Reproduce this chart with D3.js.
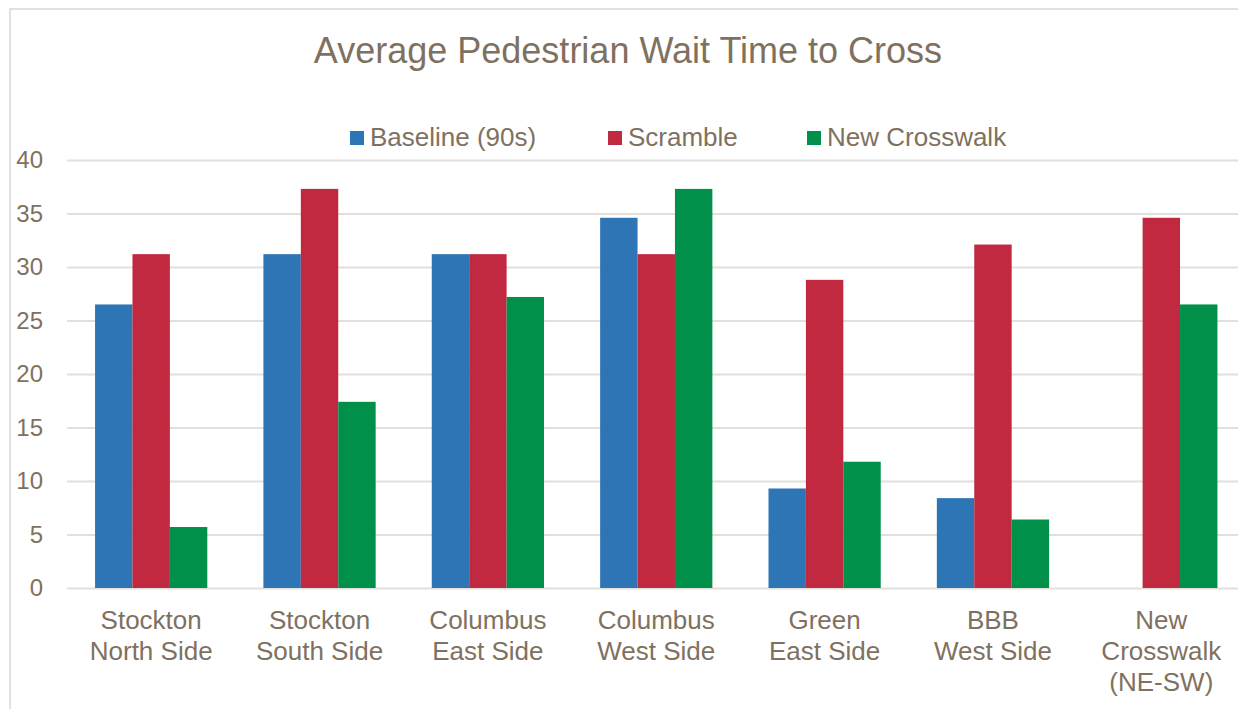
<!DOCTYPE html>
<html>
<head>
<meta charset="utf-8">
<script src="https://cdn.jsdelivr.net/npm/d3@7"></script>
<style>
  html, body { margin: 0; padding: 0; background: #fff; }
  svg { display: block; font-family: "Liberation Sans", Arial, sans-serif; }
</style>
</head>
<body>
<svg id="chart" width="1238" height="709"></svg>
<script>
var categories = [
  ["Stockton", "North Side"],
  ["Stockton", "South Side"],
  ["Columbus", "East Side"],
  ["Columbus", "West Side"],
  ["Green", "East Side"],
  ["BBB", "West Side"],
  ["New", "Crosswalk", "(NE-SW)"]
];
var seriesNames = ["Baseline (90s)", "Scramble", "New Crosswalk"];
var baseline = [26.5, 31.2, 31.2, 34.6, 9.3, 8.4, 0];
var scramble = [31.2, 37.3, 31.2, 31.2, 28.8, 32.1, 34.6];
var newCrosswalk = [5.7, 17.4, 27.2, 37.3, 11.8, 6.4, 26.5];
var yTicks = [0, 5, 10, 15, 20, 25, 30, 35, 40];

var colors = ["#2e75b6", "#c0293f", "#00904a"];
var textColor = "#7f7160";
var gridColor = "#e3dfd9";

var svg = d3.select("#chart");

// outer chart border
svg.append("rect")
  .attr("x", 10).attr("y", 9)
  .attr("width", 1300).attr("height", 800)
  .attr("fill", "none")
  .attr("stroke", "#dcd8d2")
  .attr("stroke-width", 1.5);

var catKeys = categories.map(function (d, i) { return i; });
var values = [baseline, scramble, newCrosswalk];

var x0 = d3.scaleBand()
  .domain(catKeys)
  .range([67, 1245.5])
  .paddingInner(1 / 3)
  .paddingOuter(1 / 6);

var x1 = d3.scaleBand()
  .domain([0, 1, 2])
  .range([0, x0.bandwidth()]);

var y = d3.scaleLinear()
  .domain([0, 40])
  .range([588, 160]);

// gridlines + y tick labels
var yAxis = d3.axisLeft(y)
  .tickValues(yTicks)
  .tickSize(-(1238 - 67))
  .tickPadding(24);

var gy = svg.append("g")
  .attr("transform", "translate(67,0)")
  .call(yAxis);
gy.select(".domain").remove();
gy.selectAll(".tick line")
  .attr("stroke", gridColor)
  .attr("stroke-width", 2);
gy.selectAll(".tick text")
  .attr("fill", textColor)
  .attr("font-size", 24)
  .attr("font-family", "Liberation Sans, Arial, sans-serif");

// bars
var groups = svg.append("g").selectAll("g")
  .data(catKeys)
  .join("g")
  .attr("transform", function (d) { return "translate(" + x0(d) + ",0)"; });

groups.selectAll("rect")
  .data(function (d) { return values.map(function (v, s) { return {s: s, v: v[d]}; }); })
  .join("rect")
  .attr("x", function (d) { return x1(d.s); })
  .attr("width", x1.bandwidth())
  .attr("y", function (d) { return y(d.v); })
  .attr("height", function (d) { return y(0) - y(d.v); })
  .attr("fill", function (d) { return colors[d.s]; });

// x labels (multi-line)
var xl = svg.append("g").selectAll("text")
  .data(catKeys)
  .join("text")
  .attr("x", function (d) { return x0(d) + x0.bandwidth() / 2; })
  .attr("y", 629)
  .attr("text-anchor", "middle")
  .attr("fill", textColor)
  .attr("font-size", 26);

xl.selectAll("tspan")
  .data(function (d) { return categories[d]; })
  .join("tspan")
  .attr("x", function () { var p = this.parentNode.__data__; return x0(p) + x0.bandwidth() / 2; })
  .attr("dy", function (d, i) { return i === 0 ? 0 : 31; })
  .text(function (d) { return d; });

// title
svg.append("text")
  .attr("x", 628)
  .attr("y", 63)
  .attr("text-anchor", "middle")
  .attr("fill", textColor)
  .attr("font-size", 36)
  .text("Average Pedestrian Wait Time to Cross");

// legend
var legendX = [350, 608, 807];
var leg = svg.append("g").selectAll("g")
  .data(seriesNames)
  .join("g")
  .attr("transform", function (d, i) { return "translate(" + legendX[i] + ",131)"; });

leg.append("rect")
  .attr("width", 14).attr("height", 14)
  .attr("fill", function (d, i) { return colors[i]; });

leg.append("text")
  .attr("x", 20)
  .attr("y", 15)
  .attr("fill", textColor)
  .attr("font-size", 26)
  .text(function (d) { return d; });
</script>
</body>
</html>
